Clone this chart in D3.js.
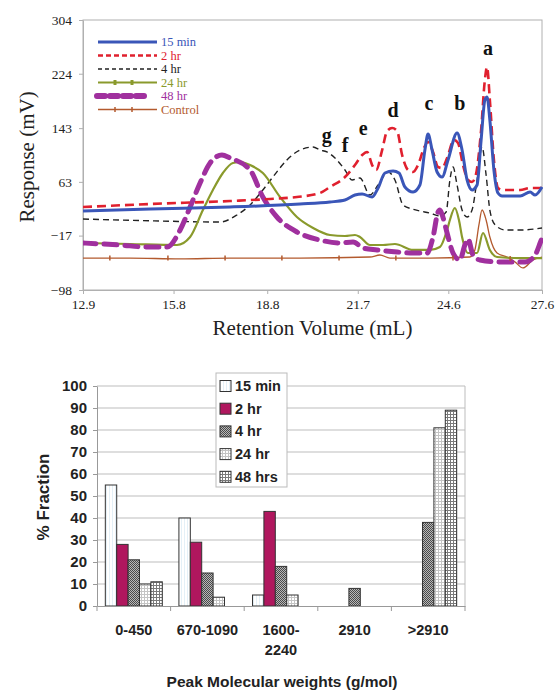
<!DOCTYPE html>
<html><head><meta charset="utf-8">
<script src="https://cdn.jsdelivr.net/npm/d3@7"></script>
<style>body{margin:0;background:#fff}</style>
</head><body><svg id="c" width="557" height="690"></svg>
<script>
// ---------- Top chart data (Retention Volume mL, Response mV) ----------
const seriesNames = ["15 min","2 hr","4 hr","24 hr","48 hr","Control"];
const data15min = [[12.90,19.6],[15.05,22.6],[17.61,25.6],[19.85,30.0],[20.81,33.0],[21.29,36.0],[21.61,43.4],[21.84,44.9],[22.16,40.5],[22.35,53.9],[22.57,76.2],[22.83,79.2],[23.02,76.2],[23.21,55.4],[23.47,47.9],[23.69,58.3],[23.85,110.4],[23.95,134.3],[24.08,110.4],[24.24,77.7],[24.40,70.2],[24.59,95.6],[24.88,135.8],[25.04,110.4],[25.20,65.8],[25.36,50.9],[25.52,58.3],[25.65,125.3],[25.77,184.9],[25.84,189.4],[25.93,155.1],[26.06,80.7],[26.19,46.4],[26.32,41.9],[26.90,41.9],[27.22,47.9],[27.38,43.4],[27.60,55.4]];
const data2hr = [[12.90,25.6],[15.05,30.0],[17.61,34.5],[18.89,37.5],[19.75,40.5],[20.49,46.4],[20.81,55.4],[21.29,70.2],[21.61,88.1],[21.84,103.0],[22.00,107.5],[22.16,88.1],[22.29,80.7],[22.48,110.4],[22.64,138.7],[22.80,143.2],[22.96,138.7],[23.12,103.0],[23.31,80.7],[23.47,77.7],[23.63,88.1],[23.82,113.4],[23.95,122.4],[24.11,107.5],[24.27,85.1],[24.40,83.6],[24.56,98.5],[24.78,125.3],[24.91,120.9],[25.07,88.1],[25.23,65.8],[25.36,62.8],[25.48,73.2],[25.65,140.2],[25.77,214.7],[25.84,234.0],[25.93,184.9],[26.06,95.6],[26.19,53.9],[26.32,50.9],[26.90,50.9],[27.22,53.9],[27.60,53.9]];
const data4hr = [[12.90,7.7],[15.37,4.7],[17.29,3.2],[17.83,13.7],[18.25,28.6],[18.66,50.9],[18.98,70.2],[19.43,95.6],[19.85,110.4],[20.27,114.9],[20.49,110.4],[20.71,107.5],[20.97,98.5],[21.29,80.7],[21.52,65.8],[21.77,68.8],[22.09,43.4],[22.35,58.3],[22.67,77.7],[22.89,65.8],[23.15,28.6],[23.44,22.6],[23.69,19.6],[24.01,16.6],[24.33,12.2],[24.53,18.1],[24.65,65.8],[24.75,85.1],[24.88,58.3],[25.04,21.1],[25.20,10.7],[25.36,21.1],[25.52,65.8],[25.68,114.9],[25.81,73.2],[25.93,21.1],[26.10,-1.2],[26.42,-8.7],[26.90,-8.7],[27.60,-5.7]];
const data24hr = [[12.90,-28.0],[14.41,-29.5],[15.91,-31.0],[16.33,-19.1],[16.74,21.1],[17.06,50.9],[17.38,76.2],[17.70,91.1],[17.96,92.6],[18.25,88.1],[18.66,76.2],[19.21,40.5],[19.75,10.7],[20.27,-5.7],[20.81,-16.1],[21.29,-17.6],[21.61,-16.1],[21.77,-19.1],[22.09,-31.0],[22.51,-31.0],[22.89,-29.5],[23.47,-38.4],[24.01,-38.4],[24.33,-34.0],[24.56,-8.7],[24.65,6.2],[24.81,24.1],[24.94,6.2],[25.04,-19.1],[25.23,-42.9],[25.52,-42.9],[25.71,-13.1],[25.93,-38.4],[26.16,-48.9],[26.90,-50.4],[27.60,-50.4]];
const data48hr = [[12.90,-28.0],[14.08,-31.0],[14.95,-34.0],[15.59,-34.0],[16.01,-8.7],[16.33,25.6],[16.65,61.3],[16.97,91.1],[17.35,103.0],[17.61,98.5],[18.25,80.7],[18.66,40.5],[19.11,10.7],[19.75,-11.6],[20.49,-23.6],[21.13,-28.0],[21.55,-26.5],[21.87,-35.5],[22.32,-38.4],[22.96,-41.4],[23.47,-42.9],[23.92,-42.9],[24.11,-19.1],[24.27,18.0],[24.33,21.1],[24.43,10.0],[24.56,-13.1],[24.75,-42.9],[24.97,-53.3],[25.13,-31.0],[25.23,-22.0],[25.39,-45.9],[25.61,-53.3],[26.26,-56.3],[27.06,-56.3],[27.38,-45.9],[27.54,-28.0],[27.60,-20.6]];
const dataControl = [[12.90,-50.4],[14.41,-50.4],[16.01,-51.8],[17.61,-50.4],[19.85,-50.4],[22.09,-48.9],[22.41,-45.9],[22.73,-50.4],[24.01,-50.4],[25.29,-48.9],[25.45,-38.4],[25.58,-1.2],[25.68,21.1],[25.81,6.2],[25.93,-19.1],[26.16,-42.9],[26.48,-48.9],[26.74,-56.3],[26.99,-65.2],[27.31,-53.3],[27.60,-48.9]];
const controlMarks = [[13.76,-50.4],[15.62,-50.4],[17.45,-50.4],[19.27,-50.4],[21.10,-50.4],[22.92,-50.4],[24.75,-50.4],[26.58,-51.0]];
const volTicks = [12.9,15.8,18.8,21.7,24.6,27.6];
const respTicks = [-98,-17,63,143,224,304];
const peakLetters = ["a","b","c","d","e","f","g"];
const peakPos = [[25.87,262],[24.97,180],[23.98,180],[22.83,170],[21.87,143],[21.29,118],[20.71,133]];

// ---------- Bottom chart data ----------
const mwCategories = ["0-450","670-1090","1600-\n2240","2910",">2910"];
const barSeries = ["15 min","2 hr","4 hr","24 hr","48 hrs"];
const frac15min = [55,40,5,0,0];
const frac2hr = [28,29,43,0,0];
const frac4hr = [21,15,18,8,38];
const frac24hr = [10,4,5,0,81];
const frac48hr = [11,0,0,0,89];
const fracTicks = [0,10,20,30,40,50,60,70,80,90,100];

const svg = d3.select("#c");
svg.append("rect").attr("width",557).attr("height",690).attr("fill","#fff");

// ===================== TOP CHART =====================
const serif = "'Liberation Serif','Times New Roman',serif";
const T = {l:83, r:542, t:20, b:290};
const x = d3.scaleLinear().domain([12.9,27.6]).range([T.l,T.r]);
const y = d3.scaleLinear().domain([-98,304]).range([T.b,T.t]);
const topG = svg.append("g");
topG.append("rect").attr("x",T.l).attr("y",T.t).attr("width",T.r-T.l).attr("height",T.b-T.t)
  .attr("fill","none").attr("stroke","#b0b0b0").attr("stroke-width",1);
const xa = topG.append("g").attr("transform",`translate(0,${T.b})`)
  .call(d3.axisBottom(x).tickValues(volTicks).tickFormat(d3.format(".1f")).tickSizeOuter(0).tickSizeInner(4));
const ya = topG.append("g").attr("transform",`translate(${T.l},0)`)
  .call(d3.axisLeft(y).tickValues(respTicks).tickSizeOuter(0).tickSizeInner(4));
[xa,ya].forEach(a=>{
  a.selectAll("path,line").attr("stroke","#b0b0b0");
  a.selectAll("text").attr("font-family",serif).attr("font-size",13.5).attr("fill","#222");
});
xa.selectAll("text").attr("dy","0.9em");
ya.selectAll("text").attr("dx","-0.3em");

topG.append("defs").append("clipPath").attr("id","clipTop").append("rect")
  .attr("x",T.l).attr("y",T.t-2).attr("width",T.r-T.l+1).attr("height",T.b-T.t+2);
const line = d3.line().x(d=>x(d[0])).y(d=>y(d[1])).curve(d3.curveMonotoneX);
const styles = [
  {data:data15min, color:"#3a56b8", w:3, dash:null},
  {data:data2hr, color:"#e0202e", w:2.6, dash:"9,5"},
  {data:data4hr, color:"#222222", w:1.4, dash:"6,4"},
  {data:data24hr, color:"#8a9a2c", w:2.2, dash:null},
  {data:data48hr, color:"#a0309e", w:5, dash:"13,8"},
  {data:dataControl, color:"#b35a2e", w:1.3, dash:null}
];
const lines = topG.append("g").attr("clip-path","url(#clipTop)");
[5,2,3,4,1,0].forEach(i=>{
  const s = styles[i];
  const p = lines.append("path").attr("d",line(s.data)).attr("fill","none")
    .attr("stroke",s.color).attr("stroke-width",s.w).attr("stroke-linejoin","round");
  if(s.dash) p.attr("stroke-dasharray",s.dash);
  if(i===4) p.attr("stroke-linecap","round");
});
lines.selectAll(".cm").data(controlMarks).enter().append("line")
  .attr("x1",d=>x(d[0])).attr("x2",d=>x(d[0])).attr("y1",d=>y(d[1])-2.5).attr("y2",d=>y(d[1])+2.5)
  .attr("stroke","#b35a2e").attr("stroke-width",1.5);

topG.selectAll(".pk").data(peakLetters).enter().append("text")
  .attr("x",(d,i)=>x(peakPos[i][0])).attr("y",(d,i)=>y(peakPos[i][1]))
  .attr("text-anchor","middle").attr("dominant-baseline","central")
  .attr("font-family",serif).attr("font-weight","bold").attr("font-size",20).attr("fill","#111")
  .text(d=>d);

const legY0 = 42, legDy = 13.5;
const leg = topG.append("g");
seriesNames.forEach((n,i)=>{
  const s = styles[i], yy = legY0 + i*legDy;
  const lw = i===4 ? 6 : (i===0?3:s.w);
  const p = leg.append("line").attr("x1",i===4?97:98).attr("x2",i===4?148:157).attr("y1",yy).attr("y2",yy)
    .attr("stroke",s.color).attr("stroke-width",lw);
  if(i===1) p.attr("stroke-dasharray","5,3");
  if(i===2) p.attr("stroke-dasharray","4,3");
  if(i===4) p.attr("stroke-dasharray","8,5").attr("stroke-linecap","round");
  if(i===3||i===5){
    [115,132].forEach(mx=>leg.append("line").attr("x1",mx).attr("x2",mx).attr("y1",yy-2.5).attr("y2",yy+2.5)
      .attr("stroke",s.color).attr("stroke-width",i===3?3:1.5));
  }
  leg.append("text").attr("x",161).attr("y",yy).attr("dominant-baseline","central")
    .attr("font-family",serif).attr("font-size",12.5).attr("fill",s.color).text(n);
});

topG.append("text").attr("transform",`translate(27,157) rotate(-90)`).attr("text-anchor","middle")
  .attr("dominant-baseline","central").attr("font-family",serif).attr("font-size",21).attr("fill","#222")
  .text("Response (mV)");
topG.append("text").attr("x",(T.l+T.r)/2).attr("y",328).attr("text-anchor","middle")
  .attr("dominant-baseline","central").attr("font-family",serif).attr("font-size",21).attr("fill","#222")
  .text("Retention Volume (mL)");

// ===================== BOTTOM CHART =====================
const sans = "'Liberation Sans',Arial,sans-serif";
const B = {l:97, r:465, t:386, b:606};
const defs = svg.append("defs");
function pat(id, w, h, bg, draw){
  const p = defs.append("pattern").attr("id",id).attr("patternUnits","userSpaceOnUse").attr("width",w).attr("height",h);
  p.append("rect").attr("width",w).attr("height",h).attr("fill",bg);
  draw(p);
}
pat("p15",3,3,"#ffffff",p=>p.append("rect").attr("x",1).attr("width",1).attr("height",3).attr("fill","#e4f0f7"));
pat("p4",2,2,"#b8b8b8",p=>{p.append("rect").attr("width",1).attr("height",1).attr("fill","#4a4a4a");
  p.append("rect").attr("x",1).attr("y",1).attr("width",1).attr("height",1).attr("fill","#4a4a4a");});
pat("p24",3,3,"#ffffff",p=>{p.append("rect").attr("width",3).attr("height",1).attr("fill","#c4c4c4");
  p.append("rect").attr("width",1).attr("height",3).attr("fill","#c4c4c4");});
pat("p48",3,3,"#ffffff",p=>{p.append("rect").attr("width",3).attr("height",1).attr("fill","#7a7a7a");
  p.append("rect").attr("width",1).attr("height",3).attr("fill","#7a7a7a");});
const barFills = ["url(#p15)","#b0175e","url(#p4)","url(#p24)","url(#p48)"];
const fracs = [frac15min,frac2hr,frac4hr,frac24hr,frac48hr];

const x0 = d3.scaleBand().domain(mwCategories).range([B.l,B.r]).padding(0);
const bw = x0.bandwidth();
const x1 = d3.scaleBand().domain(barSeries).range([bw*0.113, bw*0.887]).padding(0);
const yb = d3.scaleLinear().domain([0,100]).range([B.b,B.t]);
const bot = svg.append("g");
bot.selectAll(".gl").data(fracTicks.filter(d=>d>0)).enter().append("line")
  .attr("x1",B.l).attr("x2",B.r).attr("y1",d=>yb(d)).attr("y2",d=>yb(d))
  .attr("stroke","#bdbdbd").attr("stroke-width",1);
bot.append("line").attr("x1",B.r).attr("x2",B.r).attr("y1",B.t).attr("y2",B.b).attr("stroke","#bdbdbd");

const rows = [];
mwCategories.forEach((c,ci)=>barSeries.forEach((s,si)=>{ if(fracs[si][ci]>0) rows.push({c,s,si,v:fracs[si][ci]}); }));
bot.selectAll(".bar").data(rows).enter().append("rect")
  .attr("x",d=>x0(d.c)+x1(d.s)).attr("width",x1.bandwidth())
  .attr("y",d=>yb(d.v)).attr("height",d=>yb(0)-yb(d.v))
  .attr("fill",d=>barFills[d.si]).attr("stroke","#333").attr("stroke-width",1);

const yAx = bot.append("g").attr("transform",`translate(${B.l},0)`)
  .call(d3.axisLeft(yb).tickValues(fracTicks).tickSizeInner(4).tickSizeOuter(0));
const xAx = bot.append("g").attr("transform",`translate(0,${B.b})`)
  .call(d3.axisBottom(x0).tickSize(0).tickFormat(""));
xAx.select(".domain").attr("stroke","#999");
yAx.select(".domain").attr("stroke","#999");
yAx.selectAll("line").attr("stroke","#999");
yAx.selectAll("text").attr("font-family",sans).attr("font-weight","bold").attr("font-size",15).attr("fill","#222").attr("dx","-0.2em");
const bounds = mwCategories.map(c=>x0(c)).concat([B.r]);
bot.selectAll(".bt").data(bounds).enter().append("line")
  .attr("x1",d=>d).attr("x2",d=>d).attr("y1",B.b).attr("y2",B.b+5).attr("stroke","#999");
mwCategories.forEach(c=>{
  const parts = c.split("\n");
  const t = bot.append("text").attr("text-anchor","middle").attr("font-family",sans).attr("font-weight","bold")
    .attr("font-size",14.5).attr("fill","#222");
  parts.forEach((p,i)=>t.append("tspan").attr("x",x0(c)+bw/2).attr("y",635+i*20).text(p));
});
bot.append("text").attr("x",282).attr("y",687).attr("text-anchor","middle").attr("font-family",sans)
  .attr("font-weight","bold").attr("font-size",15.5).attr("fill","#222").text("Peak Molecular weights (g/mol)");
bot.append("text").attr("transform","translate(43,497) rotate(-90)").attr("text-anchor","middle")
  .attr("dominant-baseline","central").attr("font-family",sans).attr("font-weight","bold").attr("font-size",17)
  .attr("fill","#222").text("% Fraction");

const lg = bot.append("g");
lg.append("rect").attr("x",216).attr("y",373).attr("width",71).attr("height",114).attr("fill","#fff").attr("stroke","#bbb");
barSeries.forEach((s,i)=>{
  const yy = 386 + i*22.7;
  lg.append("rect").attr("x",220).attr("y",yy-5.5).attr("width",11).attr("height",11)
    .attr("fill",barFills[i]).attr("stroke","#333");
  lg.append("text").attr("x",235).attr("y",yy).attr("dominant-baseline","central").attr("font-family",sans)
    .attr("font-weight","bold").attr("font-size",14.5).attr("fill","#222").text(s);
});
</script></body></html>
